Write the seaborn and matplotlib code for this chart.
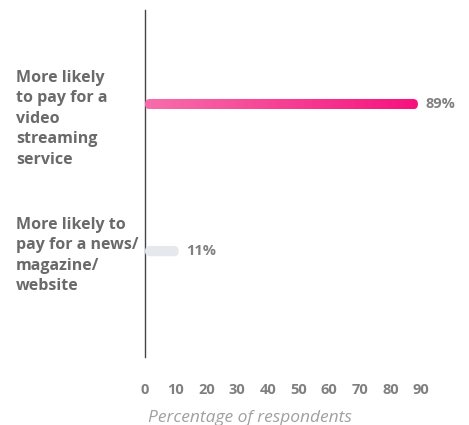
import numpy as np
import pandas as pd
import seaborn as sns
import matplotlib.pyplot as plt
from matplotlib.patches import FancyBboxPatch
from matplotlib.colors import LinearSegmentedColormap

# data
categories = ["More likely\nto pay for a\nvideo\nstreaming\nservice",
              "More likely to\npay for a news/\nmagazine/\nwebsite"]
values = [89, 11]
value_labels = ["89%", "11%"]
xticks = list(range(0, 100, 10))

sns.set_theme(style='white')
plt.rcParams['font.family'] = ['Open Sans', 'DejaVu Sans']

W, H = 469, 425
fig = plt.figure(figsize=(W / 100, H / 100), dpi=100)
ax = fig.add_axes([145 / W, (H - 357) / H, 276 / W, 347 / H])

df = pd.DataFrame({'label': categories, 'value': values})
sns.barplot(data=df, x='value', y='label', orient='h', width=0.07,
            color='#e5e9ee', ax=ax)
ax.set_xlim(0, 90)
ax.set_ylim(1.72, -0.64)

# rounded bars (pink one with gradient)
xpp = 90 / 276
ypp = (1.72 + 0.64) / 347
pink = LinearSegmentedColormap.from_list('pink', ['#f86eab', '#f6127e'])
for i, p in enumerate(list(ax.patches)):
    x0, y0, w, h = p.get_x(), p.get_y(), p.get_width(), p.get_height()
    p.set_visible(False)
    r = 5 * xpp
    box = FancyBboxPatch((x0, y0), w, h,
                         boxstyle=f"round,pad=0,rounding_size={r}",
                         mutation_aspect=ypp / xpp,
                         fc='#e5e9ee', ec='none', zorder=3)
    ax.add_patch(box)
    if i == 0:
        box.set_facecolor('none')
        grad = np.linspace(0, 1, 256).reshape(1, -1)
        im = ax.imshow(grad, cmap=pink, aspect='auto',
                       extent=(x0, x0 + w, y0 + h, y0), zorder=3)
        im.set_clip_path(box)
    ax.text(values[i] + 2.5, i, value_labels[i], va='center', ha='left',
            fontsize=10.5, fontweight='bold', color='#808080')

ax.set_xlim(0, 90)
ax.set_ylim(1.72, -0.64)

# axes styling
sns.despine(ax=ax, left=False, bottom=True)
ax.spines['left'].set_color('#444444')
ax.spines['left'].set_linewidth(1)
ax.set_xticks(xticks)
ax.set_xticklabels([str(t) for t in xticks], fontsize=10.5,
                   fontweight='bold', color='#808080')
ax.tick_params(axis='x', length=0, pad=19)
ax.tick_params(axis='y', length=0, pad=93)
# first label sits a little below its bar in the original
ax.set_yticks([0.07, 1])
ax.set_yticklabels(categories, fontsize=11.5, fontweight='bold',
                   color='#6a6a6a', linespacing=1.38)
for lbl in ax.get_yticklabels():
    lbl.set_ha('left')
ax.set_ylabel('')
ax.set_xlabel('Percentage of respondents', fontsize=12.5, style='italic',
              color='#a0a0a0')
ax.xaxis.set_label_coords(105 / 276, -53 / 347)

fig.savefig('out.png', dpi=100)
